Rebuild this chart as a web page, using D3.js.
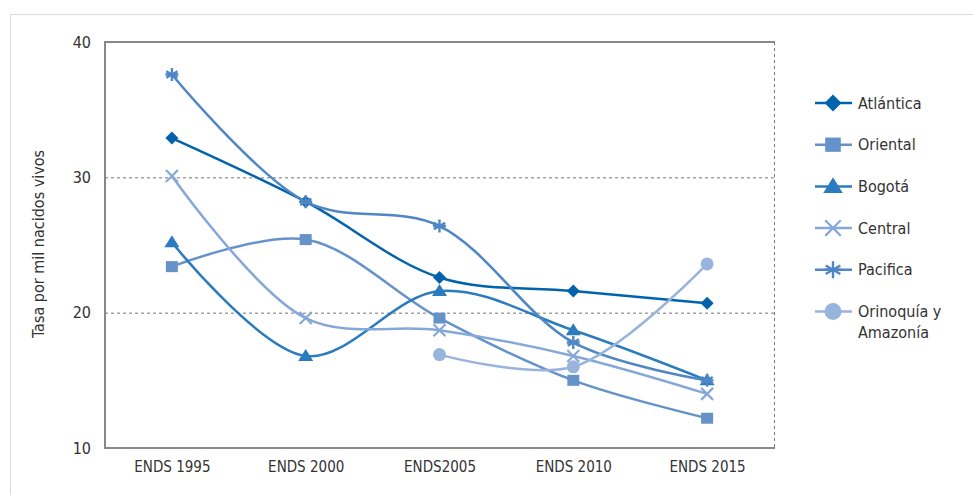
<!DOCTYPE html>
<html><head><meta charset="utf-8">
<script src="https://cdn.jsdelivr.net/npm/d3@7"></script>
<style>
body{margin:0;background:#fff;}
svg text{font-family:"DejaVu Sans Condensed","DejaVu Sans",sans-serif;font-stretch:condensed;fill:#333;}
</style></head><body>
<svg id="c" width="973" height="495"></svg>
<script>
const categories = ["ENDS 1995","ENDS 2000","ENDS2005","ENDS 2010","ENDS 2015"];
const yTicks = [10,20,30,40];
const atlantica = [32.9,28.2,22.6,21.6,20.7];
const oriental  = [23.4,25.4,19.6,15.0,12.2];
const bogota    = [25.2,16.8,21.6,18.7,15.0];
const central   = [30.1,19.6,18.7,16.8,14.0];
const pacifica  = [37.6,28.2,26.4,17.8,15.0];
const orinoquia = [null,null,16.9,16.0,23.6];

const series = [
  {name:"Atlántica", values:atlantica, color:"#0063ab", sym:"diamond"},
  {name:"Oriental", values:oriental, color:"#6593c9", sym:"square"},
  {name:"Bogotá", values:bogota, color:"#2b7bbf", sym:"triangle"},
  {name:"Central", values:central, color:"#86a8d8", sym:"x"},
  {name:"Pacifica", values:pacifica, color:"#4f86c6", sym:"star"},
  {name:"Orinoquía y|Amazonía", values:orinoquia, color:"#98b4dc", sym:"circle"}
];

const svg = d3.select("#c");
svg.append("rect").attr("x",10.5).attr("y",14.5).attr("width",1000).attr("height",600)
  .attr("fill","none").attr("stroke","#dcdcdc").attr("stroke-width",1);

const L=105, R=774, T=42, B=448;
const x = d3.scalePoint().domain(categories).range([L,R]).padding(0.5);
const y = d3.scaleLinear().domain([10,40]).range([B,T]);

svg.append("g").selectAll("line").data(yTicks.filter(d=>d>10&&d<40)).join("line")
  .attr("x1",L).attr("x2",R).attr("y1",d=>y(d)+0.5).attr("y2",d=>y(d)+0.5)
  .attr("stroke","#777").attr("stroke-dasharray","3,3").attr("stroke-width",1);
svg.append("line").attr("x1",R+0.5).attr("x2",R+0.5).attr("y1",T).attr("y2",B)
  .attr("stroke","#777").attr("stroke-dasharray","3,3");
svg.append("line").attr("x1",L).attr("x2",R+1).attr("y1",T).attr("y2",T).attr("stroke","#888").attr("stroke-width",2);
svg.append("line").attr("x1",L).attr("x2",L).attr("y1",T-1).attr("y2",B+1).attr("stroke","#888").attr("stroke-width",2);
svg.append("line").attr("x1",L-1).attr("x2",R+1).attr("y1",B).attr("y2",B).attr("stroke","#888").attr("stroke-width",2);

const yAxis = svg.append("g").attr("transform",`translate(${L},0)`)
  .call(d3.axisLeft(y).tickValues(yTicks).tickSize(0).tickPadding(14));
yAxis.select(".domain").remove();
yAxis.selectAll("text").attr("font-size",16).attr("fill","#333").style("font-family",null);

const xAxis = svg.append("g").attr("transform",`translate(0,${B})`)
  .call(d3.axisBottom(x).tickSize(0).tickPadding(13));
xAxis.select(".domain").remove();
xAxis.selectAll("text").attr("font-size",15).attr("fill","#333").style("font-family",null);

svg.append("text").attr("transform","translate(38,244) rotate(-90)")
  .attr("text-anchor","middle").attr("dy","0.35em").attr("font-size",16).text("Tasa por mil nacidos vivos");

const line = d3.line().x(d=>x(d.c)).y(d=>y(d.v)).curve(d3.curveCatmullRom.alpha(0.5));

function marker(g, sym, color, k){
  if(sym==="diamond") g.append("path").attr("d",`M0,${-6.5*k}L${6.5*k},0L0,${6.5*k}L${-6.5*k},0Z`).attr("fill",color);
  else if(sym==="square") g.append("path").attr("d",`M${-6*k},${-5.5*k}h${12*k}v${11*k}h${-12*k}Z`).attr("fill",color);
  else if(sym==="triangle") g.append("path").attr("d",`M0,${-7*k}L${7.5*k},${5*k}L${-7.5*k},${5*k}Z`).attr("fill",color);
  else if(sym==="circle") g.append("circle").attr("r",6.5*k).attr("fill",color);
  else if(sym==="x") g.append("path").attr("d",`M${-6*k},${-6*k}L${6*k},${6*k}M${-6*k},${6*k}L${6*k},${-6*k}`).attr("stroke",color).attr("stroke-width",2.2).attr("fill","none");
  else if(sym==="star"){
    const r=6.5*k, p=[];
    for(let i=0;i<3;i++){const a=Math.PI/2+i*Math.PI/3; p.push(`M${-r*Math.cos(a)},${-r*Math.sin(a)}L${r*Math.cos(a)},${r*Math.sin(a)}`);}
    p.push(`M${-r},0L${r},0`);
    g.append("path").attr("d",p.join("")).attr("stroke",color).attr("stroke-width",2.4).attr("fill","none");
  }
}

series.forEach(s=>{
  const pts = categories.map((c,i)=>({c, v:s.values[i]})).filter(d=>d.v!=null);
  svg.append("path").datum(pts).attr("d",line)
    .attr("fill","none").attr("stroke",s.color).attr("stroke-width",2.5);
});
series.forEach(s=>{
  categories.forEach((c,i)=>{
    const v=s.values[i]; if(v==null) return;
    const g=svg.append("g").attr("transform",`translate(${x(c)},${y(v)})`);
    marker(g,s.sym,s.color,1);
  });
});

const lg = svg.append("g");
series.forEach((s,i)=>{
  const cy = 103 + i*41.7;
  const g = lg.append("g").attr("transform",`translate(0,${cy})`);
  g.append("line").attr("x1",815).attr("x2",852).attr("y1",0).attr("y2",0).attr("stroke",s.color).attr("stroke-width",2.5);
  const m=g.append("g").attr("transform","translate(833,0)");
  marker(m,s.sym,s.color,1.3);
  s.name.split("|").forEach((t,j)=>{
    g.append("text").attr("x",858).attr("y",j*21).attr("dy","0.35em").attr("font-size",16).text(t);
  });
});
</script></body></html>
